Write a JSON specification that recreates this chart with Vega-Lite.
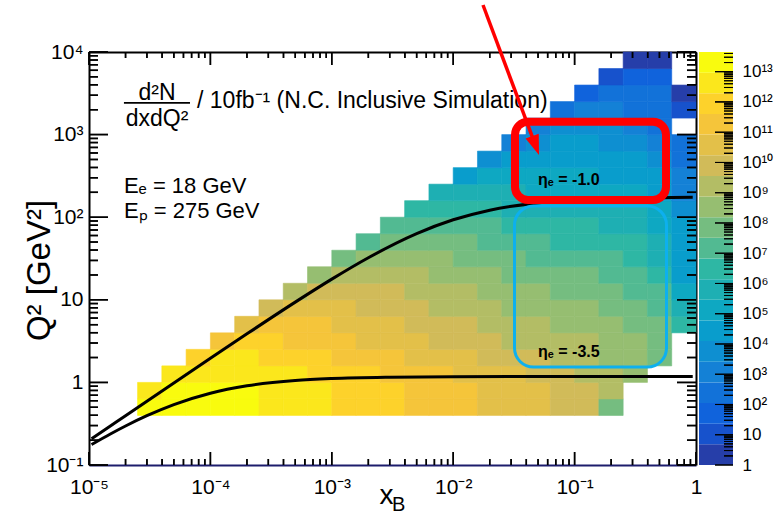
{
"$schema":"https://vega.github.io/schema/vega-lite/v6.json",
"background":"white",
"padding":{"left":23,"top":3,"right":2,"bottom":2},
"bounds":"flush",
"spacing":3,
"config":{"view":{"stroke":null},"font":"Liberation Sans","axis":{"grid":false,"labelFont":"Liberation Sans","titleFont":"Liberation Sans","labelColor":"black","titleColor":"black","titleFontWeight":"normal","zindex":1},"text":{"color":"black","font":"Liberation Sans"}},
"datasets":{
"cells":[
{"xl":2.512e-5,"xh":3.981e-5,"ql":0.3981,"qh":0.631,"z":4.46e13},
{"xl":3.981e-5,"xh":6.31e-5,"ql":0.3981,"qh":0.631,"z":4.46e13},
{"xl":6.31e-5,"xh":1e-4,"ql":0.3981,"qh":0.631,"z":4.46e13},
{"xl":1e-4,"xh":1.585e-4,"ql":0.3981,"qh":0.631,"z":4.46e13},
{"xl":1.585e-4,"xh":2.512e-4,"ql":0.3981,"qh":0.631,"z":4.46e13},
{"xl":2.512e-4,"xh":3.981e-4,"ql":0.3981,"qh":0.631,"z":9.279e12},
{"xl":3.981e-4,"xh":6.31e-4,"ql":0.3981,"qh":0.631,"z":9.279e12},
{"xl":6.31e-4,"xh":0.001,"ql":0.3981,"qh":0.631,"z":9.279e12},
{"xl":0.001,"xh":0.001585,"ql":0.3981,"qh":0.631,"z":1.928e12},
{"xl":0.001585,"xh":0.002512,"ql":0.3981,"qh":0.631,"z":1.928e12},
{"xl":0.002512,"xh":0.003981,"ql":0.3981,"qh":0.631,"z":1.928e12},
{"xl":0.003981,"xh":0.00631,"ql":0.3981,"qh":0.631,"z":4.004e11},
{"xl":0.00631,"xh":0.01,"ql":0.3981,"qh":0.631,"z":4.004e11},
{"xl":0.01,"xh":0.01585,"ql":0.3981,"qh":0.631,"z":4.004e11},
{"xl":0.01585,"xh":0.02512,"ql":0.3981,"qh":0.631,"z":8.318e10},
{"xl":0.02512,"xh":0.03981,"ql":0.3981,"qh":0.631,"z":8.318e10},
{"xl":0.03981,"xh":0.0631,"ql":0.3981,"qh":0.631,"z":8.318e10},
{"xl":0.0631,"xh":0.1,"ql":0.3981,"qh":0.631,"z":1.728e10},
{"xl":0.1,"xh":0.1585,"ql":0.3981,"qh":0.631,"z":1.728e10},
{"xl":0.1585,"xh":0.2512,"ql":0.3981,"qh":0.631,"z":1.549e8},
{"xl":2.512e-5,"xh":3.981e-5,"ql":0.631,"qh":1,"z":9.279e12},
{"xl":3.981e-5,"xh":6.31e-5,"ql":0.631,"qh":1,"z":4.46e13},
{"xl":6.31e-5,"xh":1e-4,"ql":0.631,"qh":1,"z":4.46e13},
{"xl":1e-4,"xh":1.585e-4,"ql":0.631,"qh":1,"z":4.46e13},
{"xl":1.585e-4,"xh":2.512e-4,"ql":0.631,"qh":1,"z":4.46e13},
{"xl":2.512e-4,"xh":3.981e-4,"ql":0.631,"qh":1,"z":9.279e12},
{"xl":3.981e-4,"xh":6.31e-4,"ql":0.631,"qh":1,"z":9.279e12},
{"xl":6.31e-4,"xh":0.001,"ql":0.631,"qh":1,"z":9.279e12},
{"xl":0.001,"xh":0.001585,"ql":0.631,"qh":1,"z":1.928e12},
{"xl":0.001585,"xh":0.002512,"ql":0.631,"qh":1,"z":1.928e12},
{"xl":0.002512,"xh":0.003981,"ql":0.631,"qh":1,"z":1.928e12},
{"xl":0.003981,"xh":0.00631,"ql":0.631,"qh":1,"z":4.004e11},
{"xl":0.00631,"xh":0.01,"ql":0.631,"qh":1,"z":4.004e11},
{"xl":0.01,"xh":0.01585,"ql":0.631,"qh":1,"z":4.004e11},
{"xl":0.01585,"xh":0.02512,"ql":0.631,"qh":1,"z":8.318e10},
{"xl":0.02512,"xh":0.03981,"ql":0.631,"qh":1,"z":8.318e10},
{"xl":0.03981,"xh":0.0631,"ql":0.631,"qh":1,"z":8.318e10},
{"xl":0.0631,"xh":0.1,"ql":0.631,"qh":1,"z":1.728e10},
{"xl":0.1,"xh":0.1585,"ql":0.631,"qh":1,"z":1.728e10},
{"xl":0.1585,"xh":0.2512,"ql":0.631,"qh":1,"z":3.589e9},
{"xl":3.981e-5,"xh":6.31e-5,"ql":1,"qh":1.585,"z":9.279e12},
{"xl":6.31e-5,"xh":1e-4,"ql":1,"qh":1.585,"z":9.279e12},
{"xl":1e-4,"xh":1.585e-4,"ql":1,"qh":1.585,"z":9.279e12},
{"xl":1.585e-4,"xh":2.512e-4,"ql":1,"qh":1.585,"z":9.279e12},
{"xl":2.512e-4,"xh":3.981e-4,"ql":1,"qh":1.585,"z":9.279e12},
{"xl":3.981e-4,"xh":6.31e-4,"ql":1,"qh":1.585,"z":9.279e12},
{"xl":6.31e-4,"xh":0.001,"ql":1,"qh":1.585,"z":1.928e12},
{"xl":0.001,"xh":0.001585,"ql":1,"qh":1.585,"z":1.928e12},
{"xl":0.001585,"xh":0.002512,"ql":1,"qh":1.585,"z":1.928e12},
{"xl":0.002512,"xh":0.003981,"ql":1,"qh":1.585,"z":4.004e11},
{"xl":0.003981,"xh":0.00631,"ql":1,"qh":1.585,"z":4.004e11},
{"xl":0.00631,"xh":0.01,"ql":1,"qh":1.585,"z":4.004e11},
{"xl":0.01,"xh":0.01585,"ql":1,"qh":1.585,"z":8.318e10},
{"xl":0.01585,"xh":0.02512,"ql":1,"qh":1.585,"z":8.318e10},
{"xl":0.02512,"xh":0.03981,"ql":1,"qh":1.585,"z":8.318e10},
{"xl":0.03981,"xh":0.0631,"ql":1,"qh":1.585,"z":1.728e10},
{"xl":0.0631,"xh":0.1,"ql":1,"qh":1.585,"z":1.728e10},
{"xl":0.1,"xh":0.1585,"ql":1,"qh":1.585,"z":3.589e9},
{"xl":0.1585,"xh":0.2512,"ql":1,"qh":1.585,"z":3.589e9},
{"xl":0.2512,"xh":0.3981,"ql":1,"qh":1.585,"z":7.456e8},
{"xl":6.31e-5,"xh":1e-4,"ql":1.585,"qh":2.512,"z":1.928e12},
{"xl":1e-4,"xh":1.585e-4,"ql":1.585,"qh":2.512,"z":9.279e12},
{"xl":1.585e-4,"xh":2.512e-4,"ql":1.585,"qh":2.512,"z":9.279e12},
{"xl":2.512e-4,"xh":3.981e-4,"ql":1.585,"qh":2.512,"z":1.928e12},
{"xl":3.981e-4,"xh":6.31e-4,"ql":1.585,"qh":2.512,"z":1.928e12},
{"xl":6.31e-4,"xh":0.001,"ql":1.585,"qh":2.512,"z":1.928e12},
{"xl":0.001,"xh":0.001585,"ql":1.585,"qh":2.512,"z":4.004e11},
{"xl":0.001585,"xh":0.002512,"ql":1.585,"qh":2.512,"z":4.004e11},
{"xl":0.002512,"xh":0.003981,"ql":1.585,"qh":2.512,"z":4.004e11},
{"xl":0.003981,"xh":0.00631,"ql":1.585,"qh":2.512,"z":8.318e10},
{"xl":0.00631,"xh":0.01,"ql":1.585,"qh":2.512,"z":8.318e10},
{"xl":0.01,"xh":0.01585,"ql":1.585,"qh":2.512,"z":8.318e10},
{"xl":0.01585,"xh":0.02512,"ql":1.585,"qh":2.512,"z":1.728e10},
{"xl":0.02512,"xh":0.03981,"ql":1.585,"qh":2.512,"z":1.728e10},
{"xl":0.03981,"xh":0.0631,"ql":1.585,"qh":2.512,"z":1.728e10},
{"xl":0.0631,"xh":0.1,"ql":1.585,"qh":2.512,"z":3.589e9},
{"xl":0.1,"xh":0.1585,"ql":1.585,"qh":2.512,"z":3.589e9},
{"xl":0.1585,"xh":0.2512,"ql":1.585,"qh":2.512,"z":7.456e8},
{"xl":0.2512,"xh":0.3981,"ql":1.585,"qh":2.512,"z":7.456e8},
{"xl":0.3981,"xh":0.631,"ql":1.585,"qh":2.512,"z":1.549e8},
{"xl":1e-4,"xh":1.585e-4,"ql":2.512,"qh":3.981,"z":4.004e11},
{"xl":1.585e-4,"xh":2.512e-4,"ql":2.512,"qh":3.981,"z":1.928e12},
{"xl":2.512e-4,"xh":3.981e-4,"ql":2.512,"qh":3.981,"z":1.928e12},
{"xl":3.981e-4,"xh":6.31e-4,"ql":2.512,"qh":3.981,"z":4.004e11},
{"xl":6.31e-4,"xh":0.001,"ql":2.512,"qh":3.981,"z":4.004e11},
{"xl":0.001,"xh":0.001585,"ql":2.512,"qh":3.981,"z":4.004e11},
{"xl":0.001585,"xh":0.002512,"ql":2.512,"qh":3.981,"z":8.318e10},
{"xl":0.002512,"xh":0.003981,"ql":2.512,"qh":3.981,"z":8.318e10},
{"xl":0.003981,"xh":0.00631,"ql":2.512,"qh":3.981,"z":8.318e10},
{"xl":0.00631,"xh":0.01,"ql":2.512,"qh":3.981,"z":1.728e10},
{"xl":0.01,"xh":0.01585,"ql":2.512,"qh":3.981,"z":1.728e10},
{"xl":0.01585,"xh":0.02512,"ql":2.512,"qh":3.981,"z":1.728e10},
{"xl":0.02512,"xh":0.03981,"ql":2.512,"qh":3.981,"z":3.589e9},
{"xl":0.03981,"xh":0.0631,"ql":2.512,"qh":3.981,"z":3.589e9},
{"xl":0.0631,"xh":0.1,"ql":2.512,"qh":3.981,"z":3.589e9},
{"xl":0.1,"xh":0.1585,"ql":2.512,"qh":3.981,"z":3.589e9},
{"xl":0.1585,"xh":0.2512,"ql":2.512,"qh":3.981,"z":7.456e8},
{"xl":0.2512,"xh":0.3981,"ql":2.512,"qh":3.981,"z":7.456e8},
{"xl":0.3981,"xh":0.631,"ql":2.512,"qh":3.981,"z":1.549e8},
{"xl":1.585e-4,"xh":2.512e-4,"ql":3.981,"qh":6.31,"z":8.318e10},
{"xl":2.512e-4,"xh":3.981e-4,"ql":3.981,"qh":6.31,"z":4.004e11},
{"xl":3.981e-4,"xh":6.31e-4,"ql":3.981,"qh":6.31,"z":4.004e11},
{"xl":6.31e-4,"xh":0.001,"ql":3.981,"qh":6.31,"z":4.004e11},
{"xl":0.001,"xh":0.001585,"ql":3.981,"qh":6.31,"z":8.318e10},
{"xl":0.001585,"xh":0.002512,"ql":3.981,"qh":6.31,"z":8.318e10},
{"xl":0.002512,"xh":0.003981,"ql":3.981,"qh":6.31,"z":8.318e10},
{"xl":0.003981,"xh":0.00631,"ql":3.981,"qh":6.31,"z":1.728e10},
{"xl":0.00631,"xh":0.01,"ql":3.981,"qh":6.31,"z":1.728e10},
{"xl":0.01,"xh":0.01585,"ql":3.981,"qh":6.31,"z":1.728e10},
{"xl":0.01585,"xh":0.02512,"ql":3.981,"qh":6.31,"z":3.589e9},
{"xl":0.02512,"xh":0.03981,"ql":3.981,"qh":6.31,"z":3.589e9},
{"xl":0.03981,"xh":0.0631,"ql":3.981,"qh":6.31,"z":3.589e9},
{"xl":0.0631,"xh":0.1,"ql":3.981,"qh":6.31,"z":7.456e8},
{"xl":0.1,"xh":0.1585,"ql":3.981,"qh":6.31,"z":7.456e8},
{"xl":0.1585,"xh":0.2512,"ql":3.981,"qh":6.31,"z":7.456e8},
{"xl":0.2512,"xh":0.3981,"ql":3.981,"qh":6.31,"z":1.549e8},
{"xl":0.3981,"xh":0.631,"ql":3.981,"qh":6.31,"z":1.549e8},
{"xl":0.631,"xh":1,"ql":3.981,"qh":6.31,"z":6.683e6},
{"xl":2.512e-4,"xh":3.981e-4,"ql":6.31,"qh":10,"z":1.728e10},
{"xl":3.981e-4,"xh":6.31e-4,"ql":6.31,"qh":10,"z":8.318e10},
{"xl":6.31e-4,"xh":0.001,"ql":6.31,"qh":10,"z":8.318e10},
{"xl":0.001,"xh":0.001585,"ql":6.31,"qh":10,"z":8.318e10},
{"xl":0.001585,"xh":0.002512,"ql":6.31,"qh":10,"z":1.728e10},
{"xl":0.002512,"xh":0.003981,"ql":6.31,"qh":10,"z":1.728e10},
{"xl":0.003981,"xh":0.00631,"ql":6.31,"qh":10,"z":1.728e10},
{"xl":0.00631,"xh":0.01,"ql":6.31,"qh":10,"z":3.589e9},
{"xl":0.01,"xh":0.01585,"ql":6.31,"qh":10,"z":3.589e9},
{"xl":0.01585,"xh":0.02512,"ql":6.31,"qh":10,"z":3.589e9},
{"xl":0.02512,"xh":0.03981,"ql":6.31,"qh":10,"z":7.456e8},
{"xl":0.03981,"xh":0.0631,"ql":6.31,"qh":10,"z":7.456e8},
{"xl":0.0631,"xh":0.1,"ql":6.31,"qh":10,"z":7.456e8},
{"xl":0.1,"xh":0.1585,"ql":6.31,"qh":10,"z":7.456e8},
{"xl":0.1585,"xh":0.2512,"ql":6.31,"qh":10,"z":1.549e8},
{"xl":0.2512,"xh":0.3981,"ql":6.31,"qh":10,"z":1.549e8},
{"xl":0.3981,"xh":0.631,"ql":6.31,"qh":10,"z":3.217e7},
{"xl":0.631,"xh":1,"ql":6.31,"qh":10,"z":1.388e6},
{"xl":3.981e-4,"xh":6.31e-4,"ql":10,"qh":15.85,"z":3.589e9},
{"xl":6.31e-4,"xh":0.001,"ql":10,"qh":15.85,"z":1.728e10},
{"xl":0.001,"xh":0.001585,"ql":10,"qh":15.85,"z":1.728e10},
{"xl":0.001585,"xh":0.002512,"ql":10,"qh":15.85,"z":1.728e10},
{"xl":0.002512,"xh":0.003981,"ql":10,"qh":15.85,"z":1.728e10},
{"xl":0.003981,"xh":0.00631,"ql":10,"qh":15.85,"z":3.589e9},
{"xl":0.00631,"xh":0.01,"ql":10,"qh":15.85,"z":3.589e9},
{"xl":0.01,"xh":0.01585,"ql":10,"qh":15.85,"z":3.589e9},
{"xl":0.01585,"xh":0.02512,"ql":10,"qh":15.85,"z":7.456e8},
{"xl":0.02512,"xh":0.03981,"ql":10,"qh":15.85,"z":7.456e8},
{"xl":0.03981,"xh":0.0631,"ql":10,"qh":15.85,"z":7.456e8},
{"xl":0.0631,"xh":0.1,"ql":10,"qh":15.85,"z":1.549e8},
{"xl":0.1,"xh":0.1585,"ql":10,"qh":15.85,"z":1.549e8},
{"xl":0.1585,"xh":0.2512,"ql":10,"qh":15.85,"z":1.549e8},
{"xl":0.2512,"xh":0.3981,"ql":10,"qh":15.85,"z":3.217e7},
{"xl":0.3981,"xh":0.631,"ql":10,"qh":15.85,"z":3.217e7},
{"xl":0.631,"xh":1,"ql":10,"qh":15.85,"z":288400},
{"xl":6.31e-4,"xh":0.001,"ql":15.85,"qh":25.12,"z":7.456e8},
{"xl":0.001,"xh":0.001585,"ql":15.85,"qh":25.12,"z":3.589e9},
{"xl":0.001585,"xh":0.002512,"ql":15.85,"qh":25.12,"z":3.589e9},
{"xl":0.002512,"xh":0.003981,"ql":15.85,"qh":25.12,"z":3.589e9},
{"xl":0.003981,"xh":0.00631,"ql":15.85,"qh":25.12,"z":3.589e9},
{"xl":0.00631,"xh":0.01,"ql":15.85,"qh":25.12,"z":7.456e8},
{"xl":0.01,"xh":0.01585,"ql":15.85,"qh":25.12,"z":7.456e8},
{"xl":0.01585,"xh":0.02512,"ql":15.85,"qh":25.12,"z":7.456e8},
{"xl":0.02512,"xh":0.03981,"ql":15.85,"qh":25.12,"z":1.549e8},
{"xl":0.03981,"xh":0.0631,"ql":15.85,"qh":25.12,"z":1.549e8},
{"xl":0.0631,"xh":0.1,"ql":15.85,"qh":25.12,"z":1.549e8},
{"xl":0.1,"xh":0.1585,"ql":15.85,"qh":25.12,"z":1.549e8},
{"xl":0.1585,"xh":0.2512,"ql":15.85,"qh":25.12,"z":3.217e7},
{"xl":0.2512,"xh":0.3981,"ql":15.85,"qh":25.12,"z":3.217e7},
{"xl":0.3981,"xh":0.631,"ql":15.85,"qh":25.12,"z":6.683e6},
{"xl":0.631,"xh":1,"ql":15.85,"qh":25.12,"z":59912},
{"xl":0.001,"xh":0.001585,"ql":25.12,"qh":39.81,"z":1.549e8},
{"xl":0.001585,"xh":0.002512,"ql":25.12,"qh":39.81,"z":7.456e8},
{"xl":0.002512,"xh":0.003981,"ql":25.12,"qh":39.81,"z":7.456e8},
{"xl":0.003981,"xh":0.00631,"ql":25.12,"qh":39.81,"z":7.456e8},
{"xl":0.00631,"xh":0.01,"ql":25.12,"qh":39.81,"z":7.456e8},
{"xl":0.01,"xh":0.01585,"ql":25.12,"qh":39.81,"z":1.549e8},
{"xl":0.01585,"xh":0.02512,"ql":25.12,"qh":39.81,"z":1.549e8},
{"xl":0.02512,"xh":0.03981,"ql":25.12,"qh":39.81,"z":1.549e8},
{"xl":0.03981,"xh":0.0631,"ql":25.12,"qh":39.81,"z":3.217e7},
{"xl":0.0631,"xh":0.1,"ql":25.12,"qh":39.81,"z":3.217e7},
{"xl":0.1,"xh":0.1585,"ql":25.12,"qh":39.81,"z":3.217e7},
{"xl":0.1585,"xh":0.2512,"ql":25.12,"qh":39.81,"z":3.217e7},
{"xl":0.2512,"xh":0.3981,"ql":25.12,"qh":39.81,"z":6.683e6},
{"xl":0.3981,"xh":0.631,"ql":25.12,"qh":39.81,"z":1.388e6},
{"xl":0.631,"xh":1,"ql":25.12,"qh":39.81,"z":59912},
{"xl":0.001585,"xh":0.002512,"ql":39.81,"qh":63.1,"z":3.217e7},
{"xl":0.002512,"xh":0.003981,"ql":39.81,"qh":63.1,"z":1.549e8},
{"xl":0.003981,"xh":0.00631,"ql":39.81,"qh":63.1,"z":1.549e8},
{"xl":0.00631,"xh":0.01,"ql":39.81,"qh":63.1,"z":1.549e8},
{"xl":0.01,"xh":0.01585,"ql":39.81,"qh":63.1,"z":1.549e8},
{"xl":0.01585,"xh":0.02512,"ql":39.81,"qh":63.1,"z":3.217e7},
{"xl":0.02512,"xh":0.03981,"ql":39.81,"qh":63.1,"z":3.217e7},
{"xl":0.03981,"xh":0.0631,"ql":39.81,"qh":63.1,"z":3.217e7},
{"xl":0.0631,"xh":0.1,"ql":39.81,"qh":63.1,"z":6.683e6},
{"xl":0.1,"xh":0.1585,"ql":39.81,"qh":63.1,"z":6.683e6},
{"xl":0.1585,"xh":0.2512,"ql":39.81,"qh":63.1,"z":6.683e6},
{"xl":0.2512,"xh":0.3981,"ql":39.81,"qh":63.1,"z":6.683e6},
{"xl":0.3981,"xh":0.631,"ql":39.81,"qh":63.1,"z":1.388e6},
{"xl":0.631,"xh":1,"ql":39.81,"qh":63.1,"z":59912},
{"xl":0.002512,"xh":0.003981,"ql":63.1,"qh":100,"z":3.217e7},
{"xl":0.003981,"xh":0.00631,"ql":63.1,"qh":100,"z":3.217e7},
{"xl":0.00631,"xh":0.01,"ql":63.1,"qh":100,"z":3.217e7},
{"xl":0.01,"xh":0.01585,"ql":63.1,"qh":100,"z":3.217e7},
{"xl":0.01585,"xh":0.02512,"ql":63.1,"qh":100,"z":3.217e7},
{"xl":0.02512,"xh":0.03981,"ql":63.1,"qh":100,"z":6.683e6},
{"xl":0.03981,"xh":0.0631,"ql":63.1,"qh":100,"z":6.683e6},
{"xl":0.0631,"xh":0.1,"ql":63.1,"qh":100,"z":6.683e6},
{"xl":0.1,"xh":0.1585,"ql":63.1,"qh":100,"z":6.683e6},
{"xl":0.1585,"xh":0.2512,"ql":63.1,"qh":100,"z":1.388e6},
{"xl":0.2512,"xh":0.3981,"ql":63.1,"qh":100,"z":1.388e6},
{"xl":0.3981,"xh":0.631,"ql":63.1,"qh":100,"z":288400},
{"xl":0.631,"xh":1,"ql":63.1,"qh":100,"z":59912},
{"xl":0.003981,"xh":0.00631,"ql":100,"qh":158.5,"z":6.683e6},
{"xl":0.00631,"xh":0.01,"ql":100,"qh":158.5,"z":6.683e6},
{"xl":0.01,"xh":0.01585,"ql":100,"qh":158.5,"z":6.683e6},
{"xl":0.01585,"xh":0.02512,"ql":100,"qh":158.5,"z":6.683e6},
{"xl":0.02512,"xh":0.03981,"ql":100,"qh":158.5,"z":1.388e6},
{"xl":0.03981,"xh":0.0631,"ql":100,"qh":158.5,"z":1.388e6},
{"xl":0.0631,"xh":0.1,"ql":100,"qh":158.5,"z":1.388e6},
{"xl":0.1,"xh":0.1585,"ql":100,"qh":158.5,"z":1.388e6},
{"xl":0.1585,"xh":0.2512,"ql":100,"qh":158.5,"z":1.388e6},
{"xl":0.2512,"xh":0.3981,"ql":100,"qh":158.5,"z":1.388e6},
{"xl":0.3981,"xh":0.631,"ql":100,"qh":158.5,"z":288400},
{"xl":0.631,"xh":1,"ql":100,"qh":158.5,"z":12445},
{"xl":0.00631,"xh":0.01,"ql":158.5,"qh":251.2,"z":1.388e6},
{"xl":0.01,"xh":0.01585,"ql":158.5,"qh":251.2,"z":1.388e6},
{"xl":0.01585,"xh":0.02512,"ql":158.5,"qh":251.2,"z":1.388e6},
{"xl":0.02512,"xh":0.03981,"ql":158.5,"qh":251.2,"z":1.388e6},
{"xl":0.03981,"xh":0.0631,"ql":158.5,"qh":251.2,"z":288400},
{"xl":0.0631,"xh":0.1,"ql":158.5,"qh":251.2,"z":288400},
{"xl":0.1,"xh":0.1585,"ql":158.5,"qh":251.2,"z":288400},
{"xl":0.1585,"xh":0.2512,"ql":158.5,"qh":251.2,"z":288400},
{"xl":0.2512,"xh":0.3981,"ql":158.5,"qh":251.2,"z":288400},
{"xl":0.3981,"xh":0.631,"ql":158.5,"qh":251.2,"z":59912},
{"xl":0.631,"xh":1,"ql":158.5,"qh":251.2,"z":2585},
{"xl":0.01,"xh":0.01585,"ql":251.2,"qh":398.1,"z":59912},
{"xl":0.01585,"xh":0.02512,"ql":251.2,"qh":398.1,"z":288400},
{"xl":0.02512,"xh":0.03981,"ql":251.2,"qh":398.1,"z":288400},
{"xl":0.03981,"xh":0.0631,"ql":251.2,"qh":398.1,"z":288400},
{"xl":0.0631,"xh":0.1,"ql":251.2,"qh":398.1,"z":288400},
{"xl":0.1,"xh":0.1585,"ql":251.2,"qh":398.1,"z":288400},
{"xl":0.1585,"xh":0.2512,"ql":251.2,"qh":398.1,"z":59912},
{"xl":0.2512,"xh":0.3981,"ql":251.2,"qh":398.1,"z":59912},
{"xl":0.3981,"xh":0.631,"ql":251.2,"qh":398.1,"z":59912},
{"xl":0.631,"xh":1,"ql":251.2,"qh":398.1,"z":2585},
{"xl":0.01585,"xh":0.02512,"ql":398.1,"qh":631,"z":12445},
{"xl":0.02512,"xh":0.03981,"ql":398.1,"qh":631,"z":59912},
{"xl":0.03981,"xh":0.0631,"ql":398.1,"qh":631,"z":59912},
{"xl":0.0631,"xh":0.1,"ql":398.1,"qh":631,"z":59912},
{"xl":0.1,"xh":0.1585,"ql":398.1,"qh":631,"z":59912},
{"xl":0.1585,"xh":0.2512,"ql":398.1,"qh":631,"z":59912},
{"xl":0.2512,"xh":0.3981,"ql":398.1,"qh":631,"z":59912},
{"xl":0.3981,"xh":0.631,"ql":398.1,"qh":631,"z":12445},
{"xl":0.631,"xh":1,"ql":398.1,"qh":631,"z":537},
{"xl":0.02512,"xh":0.03981,"ql":631,"qh":1000,"z":2585},
{"xl":0.03981,"xh":0.0631,"ql":631,"qh":1000,"z":12445},
{"xl":0.0631,"xh":0.1,"ql":631,"qh":1000,"z":59912},
{"xl":0.1,"xh":0.1585,"ql":631,"qh":1000,"z":59912},
{"xl":0.1585,"xh":0.2512,"ql":631,"qh":1000,"z":12445},
{"xl":0.2512,"xh":0.3981,"ql":631,"qh":1000,"z":12445},
{"xl":0.3981,"xh":0.631,"ql":631,"qh":1000,"z":2585},
{"xl":0.631,"xh":1,"ql":631,"qh":1000,"z":537},
{"xl":0.03981,"xh":0.0631,"ql":1000,"qh":1585,"z":2585},
{"xl":0.0631,"xh":0.1,"ql":1000,"qh":1585,"z":12445},
{"xl":0.1,"xh":0.1585,"ql":1000,"qh":1585,"z":12445},
{"xl":0.1585,"xh":0.2512,"ql":1000,"qh":1585,"z":12445},
{"xl":0.2512,"xh":0.3981,"ql":1000,"qh":1585,"z":2585},
{"xl":0.3981,"xh":0.631,"ql":1000,"qh":1585,"z":537},
{"xl":0.0631,"xh":0.1,"ql":1585,"qh":2512,"z":537},
{"xl":0.1,"xh":0.1585,"ql":1585,"qh":2512,"z":2585},
{"xl":0.1585,"xh":0.2512,"ql":1585,"qh":2512,"z":2585},
{"xl":0.2512,"xh":0.3981,"ql":1585,"qh":2512,"z":537},
{"xl":0.3981,"xh":0.631,"ql":1585,"qh":2512,"z":537},
{"xl":0.631,"xh":1,"ql":1585,"qh":2512,"z":23.2},
{"xl":0.1,"xh":0.1585,"ql":2512,"qh":3981,"z":111.6},
{"xl":0.1585,"xh":0.2512,"ql":2512,"qh":3981,"z":537},
{"xl":0.2512,"xh":0.3981,"ql":2512,"qh":3981,"z":537},
{"xl":0.3981,"xh":0.631,"ql":2512,"qh":3981,"z":537},
{"xl":0.631,"xh":1,"ql":2512,"qh":3981,"z":4.81},
{"xl":0.1585,"xh":0.2512,"ql":3981,"qh":6310,"z":23.2},
{"xl":0.2512,"xh":0.3981,"ql":3981,"qh":6310,"z":111.6},
{"xl":0.3981,"xh":0.631,"ql":3981,"qh":6310,"z":111.6},
{"xl":0.2512,"xh":0.3981,"ql":6310,"qh":10000,"z":4.81},
{"xl":0.3981,"xh":0.631,"ql":6310,"qh":10000,"z":4.81}
],
"bar":[
{"lo":1,"hi":4.814},{"lo":4.814,"hi":23.174},{"lo":23.174,"hi":111.56},{"lo":111.56,"hi":537.03},{"lo":537.03,"hi":2585.3},{"lo":2585.3,"hi":12445},{"lo":12445,"hi":59912},{"lo":59912,"hi":288403},{"lo":288403,"hi":1388400},{"lo":1388400,"hi":6683400},{"lo":6683400,"hi":32174000},{"lo":32174000,"hi":154880000},{"lo":154880000,"hi":745590000},{"lo":745590000,"hi":3589200000},{"lo":3589200000,"hi":17278000000},{"lo":17278000000,"hi":83176000000},{"lo":83176000000,"hi":400400000000},{"lo":400400000000,"hi":1927500000000},{"lo":1927500000000,"hi":9279000000000},{"lo":9279000000000,"hi":44668000000000}
],
"bt":[
{"v":1e-5,"a":0.1,"b":0.1437},{"v":2e-5,"a":0.1,"b":0.1182},{"v":3e-5,"a":0.1,"b":0.1182},{"v":4e-5,"a":0.1,"b":0.1182},{"v":5e-5,"a":0.1,"b":0.1182},{"v":6e-5,"a":0.1,"b":0.1182},{"v":7e-5,"a":0.1,"b":0.1182},{"v":8e-5,"a":0.1,"b":0.1182},{"v":9e-5,"a":0.1,"b":0.1182},
{"v":1e-4,"a":0.1,"b":0.1437},{"v":2e-4,"a":0.1,"b":0.1182},{"v":3e-4,"a":0.1,"b":0.1182},{"v":4e-4,"a":0.1,"b":0.1182},{"v":5e-4,"a":0.1,"b":0.1182},{"v":6e-4,"a":0.1,"b":0.1182},{"v":7e-4,"a":0.1,"b":0.1182},{"v":8e-4,"a":0.1,"b":0.1182},{"v":9e-4,"a":0.1,"b":0.1182},
{"v":0.001,"a":0.1,"b":0.1437},{"v":0.002,"a":0.1,"b":0.1182},{"v":0.003,"a":0.1,"b":0.1182},{"v":0.004,"a":0.1,"b":0.1182},{"v":0.005,"a":0.1,"b":0.1182},{"v":0.006,"a":0.1,"b":0.1182},{"v":0.007,"a":0.1,"b":0.1182},{"v":0.008,"a":0.1,"b":0.1182},{"v":0.009,"a":0.1,"b":0.1182},
{"v":0.01,"a":0.1,"b":0.1437},{"v":0.02,"a":0.1,"b":0.1182},{"v":0.03,"a":0.1,"b":0.1182},{"v":0.04,"a":0.1,"b":0.1182},{"v":0.05,"a":0.1,"b":0.1182},{"v":0.06,"a":0.1,"b":0.1182},{"v":0.07,"a":0.1,"b":0.1182},{"v":0.08,"a":0.1,"b":0.1182},{"v":0.09,"a":0.1,"b":0.1182},
{"v":0.1,"a":0.1,"b":0.1437},{"v":0.2,"a":0.1,"b":0.1182},{"v":0.3,"a":0.1,"b":0.1182},{"v":0.4,"a":0.1,"b":0.1182},{"v":0.5,"a":0.1,"b":0.1182},{"v":0.6,"a":0.1,"b":0.1182},{"v":0.7,"a":0.1,"b":0.1182},{"v":0.8,"a":0.1,"b":0.1182},{"v":0.9,"a":0.1,"b":0.1182},
{"v":1,"a":0.1,"b":0.1437}
],
"tt":[
{"v":1e-5,"a":10000,"b":6959},{"v":2e-5,"a":10000,"b":8460},{"v":3e-5,"a":10000,"b":8460},{"v":4e-5,"a":10000,"b":8460},{"v":5e-5,"a":10000,"b":8460},{"v":6e-5,"a":10000,"b":8460},{"v":7e-5,"a":10000,"b":8460},{"v":8e-5,"a":10000,"b":8460},{"v":9e-5,"a":10000,"b":8460},
{"v":1e-4,"a":10000,"b":6959},{"v":2e-4,"a":10000,"b":8460},{"v":3e-4,"a":10000,"b":8460},{"v":4e-4,"a":10000,"b":8460},{"v":5e-4,"a":10000,"b":8460},{"v":6e-4,"a":10000,"b":8460},{"v":7e-4,"a":10000,"b":8460},{"v":8e-4,"a":10000,"b":8460},{"v":9e-4,"a":10000,"b":8460},
{"v":0.001,"a":10000,"b":6959},{"v":0.002,"a":10000,"b":8460},{"v":0.003,"a":10000,"b":8460},{"v":0.004,"a":10000,"b":8460},{"v":0.005,"a":10000,"b":8460},{"v":0.006,"a":10000,"b":8460},{"v":0.007,"a":10000,"b":8460},{"v":0.008,"a":10000,"b":8460},{"v":0.009,"a":10000,"b":8460},
{"v":0.01,"a":10000,"b":6959},{"v":0.02,"a":10000,"b":8460},{"v":0.03,"a":10000,"b":8460},{"v":0.04,"a":10000,"b":8460},{"v":0.05,"a":10000,"b":8460},{"v":0.06,"a":10000,"b":8460},{"v":0.07,"a":10000,"b":8460},{"v":0.08,"a":10000,"b":8460},{"v":0.09,"a":10000,"b":8460},
{"v":0.1,"a":10000,"b":6959},{"v":0.2,"a":10000,"b":8460},{"v":0.3,"a":10000,"b":8460},{"v":0.4,"a":10000,"b":8460},{"v":0.5,"a":10000,"b":8460},{"v":0.6,"a":10000,"b":8460},{"v":0.7,"a":10000,"b":8460},{"v":0.8,"a":10000,"b":8460},{"v":0.9,"a":10000,"b":8460},
{"v":1,"a":10000,"b":6959}
],
"lt":[
{"v":0.1,"a":1e-5,"b":1.434e-5},{"v":0.2,"a":1e-5,"b":1.186e-5},{"v":0.3,"a":1e-5,"b":1.186e-5},{"v":0.4,"a":1e-5,"b":1.186e-5},{"v":0.5,"a":1e-5,"b":1.186e-5},{"v":0.6,"a":1e-5,"b":1.186e-5},{"v":0.7,"a":1e-5,"b":1.186e-5},{"v":0.8,"a":1e-5,"b":1.186e-5},{"v":0.9,"a":1e-5,"b":1.186e-5},
{"v":1,"a":1e-5,"b":1.434e-5},{"v":2,"a":1e-5,"b":1.186e-5},{"v":3,"a":1e-5,"b":1.186e-5},{"v":4,"a":1e-5,"b":1.186e-5},{"v":5,"a":1e-5,"b":1.186e-5},{"v":6,"a":1e-5,"b":1.186e-5},{"v":7,"a":1e-5,"b":1.186e-5},{"v":8,"a":1e-5,"b":1.186e-5},{"v":9,"a":1e-5,"b":1.186e-5},
{"v":10,"a":1e-5,"b":1.434e-5},{"v":20,"a":1e-5,"b":1.186e-5},{"v":30,"a":1e-5,"b":1.186e-5},{"v":40,"a":1e-5,"b":1.186e-5},{"v":50,"a":1e-5,"b":1.186e-5},{"v":60,"a":1e-5,"b":1.186e-5},{"v":70,"a":1e-5,"b":1.186e-5},{"v":80,"a":1e-5,"b":1.186e-5},{"v":90,"a":1e-5,"b":1.186e-5},
{"v":100,"a":1e-5,"b":1.434e-5},{"v":200,"a":1e-5,"b":1.186e-5},{"v":300,"a":1e-5,"b":1.186e-5},{"v":400,"a":1e-5,"b":1.186e-5},{"v":500,"a":1e-5,"b":1.186e-5},{"v":600,"a":1e-5,"b":1.186e-5},{"v":700,"a":1e-5,"b":1.186e-5},{"v":800,"a":1e-5,"b":1.186e-5},{"v":900,"a":1e-5,"b":1.186e-5},
{"v":1000,"a":1e-5,"b":1.434e-5},{"v":2000,"a":1e-5,"b":1.186e-5},{"v":3000,"a":1e-5,"b":1.186e-5},{"v":4000,"a":1e-5,"b":1.186e-5},{"v":5000,"a":1e-5,"b":1.186e-5},{"v":6000,"a":1e-5,"b":1.186e-5},{"v":7000,"a":1e-5,"b":1.186e-5},{"v":8000,"a":1e-5,"b":1.186e-5},{"v":9000,"a":1e-5,"b":1.186e-5},
{"v":10000,"a":1e-5,"b":1.434e-5}
],
"rt":[
{"v":0.1,"a":1,"b":0.6975},{"v":0.2,"a":1,"b":0.8429},{"v":0.3,"a":1,"b":0.8429},{"v":0.4,"a":1,"b":0.8429},{"v":0.5,"a":1,"b":0.8429},{"v":0.6,"a":1,"b":0.8429},{"v":0.7,"a":1,"b":0.8429},{"v":0.8,"a":1,"b":0.8429},{"v":0.9,"a":1,"b":0.8429},
{"v":1,"a":1,"b":0.6975},{"v":2,"a":1,"b":0.8429},{"v":3,"a":1,"b":0.8429},{"v":4,"a":1,"b":0.8429},{"v":5,"a":1,"b":0.8429},{"v":6,"a":1,"b":0.8429},{"v":7,"a":1,"b":0.8429},{"v":8,"a":1,"b":0.8429},{"v":9,"a":1,"b":0.8429},
{"v":10,"a":1,"b":0.6975},{"v":20,"a":1,"b":0.8429},{"v":30,"a":1,"b":0.8429},{"v":40,"a":1,"b":0.8429},{"v":50,"a":1,"b":0.8429},{"v":60,"a":1,"b":0.8429},{"v":70,"a":1,"b":0.8429},{"v":80,"a":1,"b":0.8429},{"v":90,"a":1,"b":0.8429},
{"v":100,"a":1,"b":0.6975},{"v":200,"a":1,"b":0.8429},{"v":300,"a":1,"b":0.8429},{"v":400,"a":1,"b":0.8429},{"v":500,"a":1,"b":0.8429},{"v":600,"a":1,"b":0.8429},{"v":700,"a":1,"b":0.8429},{"v":800,"a":1,"b":0.8429},{"v":900,"a":1,"b":0.8429},
{"v":1000,"a":1,"b":0.6975},{"v":2000,"a":1,"b":0.8429},{"v":3000,"a":1,"b":0.8429},{"v":4000,"a":1,"b":0.8429},{"v":5000,"a":1,"b":0.8429},{"v":6000,"a":1,"b":0.8429},{"v":7000,"a":1,"b":0.8429},{"v":8000,"a":1,"b":0.8429},{"v":9000,"a":1,"b":0.8429},
{"v":10000,"a":1,"b":0.6975}
],
"ct":[
{"v":1,"a":1,"b":0.4706},{"v":2,"a":1,"b":0.7353},{"v":3,"a":1,"b":0.7353},{"v":4,"a":1,"b":0.7353},{"v":5,"a":1,"b":0.7353},{"v":6,"a":1,"b":0.7353},{"v":7,"a":1,"b":0.7353},{"v":8,"a":1,"b":0.7353},{"v":9,"a":1,"b":0.7353},
{"v":10,"a":1,"b":0.4706},{"v":20,"a":1,"b":0.7353},{"v":30,"a":1,"b":0.7353},{"v":40,"a":1,"b":0.7353},{"v":50,"a":1,"b":0.7353},{"v":60,"a":1,"b":0.7353},{"v":70,"a":1,"b":0.7353},{"v":80,"a":1,"b":0.7353},{"v":90,"a":1,"b":0.7353},
{"v":100,"a":1,"b":0.4706},{"v":200,"a":1,"b":0.7353},{"v":300,"a":1,"b":0.7353},{"v":400,"a":1,"b":0.7353},{"v":500,"a":1,"b":0.7353},{"v":600,"a":1,"b":0.7353},{"v":700,"a":1,"b":0.7353},{"v":800,"a":1,"b":0.7353},{"v":900,"a":1,"b":0.7353},
{"v":1000,"a":1,"b":0.4706},{"v":2000,"a":1,"b":0.7353},{"v":3000,"a":1,"b":0.7353},{"v":4000,"a":1,"b":0.7353},{"v":5000,"a":1,"b":0.7353},{"v":6000,"a":1,"b":0.7353},{"v":7000,"a":1,"b":0.7353},{"v":8000,"a":1,"b":0.7353},{"v":9000,"a":1,"b":0.7353},
{"v":1e4,"a":1,"b":0.4706},{"v":2e4,"a":1,"b":0.7353},{"v":3e4,"a":1,"b":0.7353},{"v":4e4,"a":1,"b":0.7353},{"v":5e4,"a":1,"b":0.7353},{"v":6e4,"a":1,"b":0.7353},{"v":7e4,"a":1,"b":0.7353},{"v":8e4,"a":1,"b":0.7353},{"v":9e4,"a":1,"b":0.7353},
{"v":1e5,"a":1,"b":0.4706},{"v":2e5,"a":1,"b":0.7353},{"v":3e5,"a":1,"b":0.7353},{"v":4e5,"a":1,"b":0.7353},{"v":5e5,"a":1,"b":0.7353},{"v":6e5,"a":1,"b":0.7353},{"v":7e5,"a":1,"b":0.7353},{"v":8e5,"a":1,"b":0.7353},{"v":9e5,"a":1,"b":0.7353},
{"v":1e6,"a":1,"b":0.4706},{"v":2e6,"a":1,"b":0.7353},{"v":3e6,"a":1,"b":0.7353},{"v":4e6,"a":1,"b":0.7353},{"v":5e6,"a":1,"b":0.7353},{"v":6e6,"a":1,"b":0.7353},{"v":7e6,"a":1,"b":0.7353},{"v":8e6,"a":1,"b":0.7353},{"v":9e6,"a":1,"b":0.7353},
{"v":1e7,"a":1,"b":0.4706},{"v":2e7,"a":1,"b":0.7353},{"v":3e7,"a":1,"b":0.7353},{"v":4e7,"a":1,"b":0.7353},{"v":5e7,"a":1,"b":0.7353},{"v":6e7,"a":1,"b":0.7353},{"v":7e7,"a":1,"b":0.7353},{"v":8e7,"a":1,"b":0.7353},{"v":9e7,"a":1,"b":0.7353},
{"v":1e8,"a":1,"b":0.4706},{"v":2e8,"a":1,"b":0.7353},{"v":3e8,"a":1,"b":0.7353},{"v":4e8,"a":1,"b":0.7353},{"v":5e8,"a":1,"b":0.7353},{"v":6e8,"a":1,"b":0.7353},{"v":7e8,"a":1,"b":0.7353},{"v":8e8,"a":1,"b":0.7353},{"v":9e8,"a":1,"b":0.7353},
{"v":1e9,"a":1,"b":0.4706},{"v":2e9,"a":1,"b":0.7353},{"v":3e9,"a":1,"b":0.7353},{"v":4e9,"a":1,"b":0.7353},{"v":5e9,"a":1,"b":0.7353},{"v":6e9,"a":1,"b":0.7353},{"v":7e9,"a":1,"b":0.7353},{"v":8e9,"a":1,"b":0.7353},{"v":9e9,"a":1,"b":0.7353},
{"v":1e10,"a":1,"b":0.4706},{"v":2e10,"a":1,"b":0.7353},{"v":3e10,"a":1,"b":0.7353},{"v":4e10,"a":1,"b":0.7353},{"v":5e10,"a":1,"b":0.7353},{"v":6e10,"a":1,"b":0.7353},{"v":7e10,"a":1,"b":0.7353},{"v":8e10,"a":1,"b":0.7353},{"v":9e10,"a":1,"b":0.7353},
{"v":1e11,"a":1,"b":0.4706},{"v":2e11,"a":1,"b":0.7353},{"v":3e11,"a":1,"b":0.7353},{"v":4e11,"a":1,"b":0.7353},{"v":5e11,"a":1,"b":0.7353},{"v":6e11,"a":1,"b":0.7353},{"v":7e11,"a":1,"b":0.7353},{"v":8e11,"a":1,"b":0.7353},{"v":9e11,"a":1,"b":0.7353},
{"v":1e12,"a":1,"b":0.4706},{"v":2e12,"a":1,"b":0.7353},{"v":3e12,"a":1,"b":0.7353},{"v":4e12,"a":1,"b":0.7353},{"v":5e12,"a":1,"b":0.7353},{"v":6e12,"a":1,"b":0.7353},{"v":7e12,"a":1,"b":0.7353},{"v":8e12,"a":1,"b":0.7353},{"v":9e12,"a":1,"b":0.7353},
{"v":1e13,"a":1,"b":0.4706},{"v":2e13,"a":1,"b":0.7353},{"v":3e13,"a":1,"b":0.7353},{"v":4e13,"a":1,"b":0.7353}
],
"curves":[
{"eta":"-1.0","x":1.05e-5,"q":0.2077},{"eta":"-1.0","x":1.5e-5,"q":0.2965},{"eta":"-1.0","x":2e-5,"q":0.3951},{"eta":"-1.0","x":3e-5,"q":0.592},{"eta":"-1.0","x":5e-5,"q":0.9844},{"eta":"-1.0","x":1e-4,"q":1.958},{"eta":"-1.0","x":2e-4,"q":3.872},{"eta":"-1.0","x":5e-4,"q":9.371},{"eta":"-1.0","x":0.001,"q":17.79},{"eta":"-1.0","x":0.002,"q":32.3},{"eta":"-1.0","x":0.005,"q":63.28},{"eta":"-1.0","x":0.01,"q":93.0},{"eta":"-1.0","x":0.02,"q":121.6},{"eta":"-1.0","x":0.05,"q":149.0},{"eta":"-1.0","x":0.1,"q":161.1},{"eta":"-1.0","x":0.2,"q":168.0},{"eta":"-1.0","x":0.5,"q":172.3},{"eta":"-1.0","x":0.94,"q":173.8},
{"eta":"-3.5","x":1.05e-5,"q":0.1767},{"eta":"-3.5","x":1.5e-5,"q":0.2372},{"eta":"-3.5","x":2e-5,"q":0.2964},{"eta":"-3.5","x":3e-5,"q":0.3949},{"eta":"-3.5","x":5e-5,"q":0.5381},{"eta":"-3.5","x":1e-4,"q":0.7389},{"eta":"-3.5","x":2e-4,"q":0.9085},{"eta":"-3.5","x":5e-4,"q":1.0535},{"eta":"-3.5","x":0.001,"q":1.1127},{"eta":"-3.5","x":0.003,"q":1.156},{"eta":"-3.5","x":0.01,"q":1.172},{"eta":"-3.5","x":0.1,"q":1.178},{"eta":"-3.5","x":0.94,"q":1.179}
]
},
"hconcat":[
{
"width":607,"height":413,
"resolve":{"axis":{"x":"independent","y":"independent"}},
"layer":[
{
"data":{"name":"cells"},
"mark":{"type":"rect","strokeWidth":0.6},
"encoding":{
"x":{"field":"xl","type":"quantitative","scale":{"type":"log","domain":[1e-5,1],"nice":false},
"axis":{"orient":"bottom","values":[1e-5,1e-4,0.001,0.01,0.1,1],"ticks":false,"domain":true,"domainColor":"#1c1c6c","domainWidth":2,
"labelExpr":"['10⁻⁵','10⁻⁴','10⁻³','10⁻²','10⁻¹','1'][round(log(datum.value)/LN10)+5]",
"labelFontSize":21,"labelPadding":11,"labelBaseline":"top","labelFlush":false,"labelOverlap":false,"labelBound":false,
"title":"x","titleFontSize":28,"titleX":297,"titleY":38,"titleAlign":"center","titleBaseline":"alphabetic"}},
"x2":{"field":"xh"},
"y":{"field":"ql","type":"quantitative","scale":{"type":"log","domain":[0.1,10000],"nice":false},
"axis":{"orient":"left","values":[0.1,1,10,100,1000,10000],"ticks":false,"domain":true,"domainColor":"black","domainWidth":2,
"labelExpr":"['10⁻¹','1','10','10²','10³','10⁴'][round(log(datum.value)/LN10)+1]",
"labelFontSize":21,"labelPadding":6,"labelAlign":"right","labelBaseline":"middle","labelFlush":false,"labelOverlap":false,"labelBound":false,
"title":"Q² [GeV²]","titleFontSize":33,"titleX":-40,"titleY":218,"titleAngle":270,"titleAlign":"center","titleBaseline":"alphabetic"}},
"y2":{"field":"qh"},
"color":{"field":"z","type":"quantitative","legend":null,"scale":{"type":"log","domain":[1,50.835,2585.3,131460,6683400,339820000,17278000000,878360000000,44668000000000],"range":["#352a87","#0f5cdd","#1481d6","#06a4ca","#2eb7a4","#87bf77","#d1bb59","#fec832","#f9fb0e"],"interpolate":"rgb","clamp":true}},
"stroke":{"field":"z","type":"quantitative","legend":null,"scale":{"type":"log","domain":[1,50.835,2585.3,131460,6683400,339820000,17278000000,878360000000,44668000000000],"range":["#352a87","#0f5cdd","#1481d6","#06a4ca","#2eb7a4","#87bf77","#d1bb59","#fec832","#f9fb0e"],"interpolate":"rgb","clamp":true}}
}
},
{
"data":{"name":"curves"},
"mark":{"type":"line","color":"black","strokeWidth":3,"interpolate":"monotone"},
"encoding":{
"x":{"field":"x","type":"quantitative","axis":{"orient":"top","ticks":false,"labels":false,"domain":true,"domainColor":"black","domainWidth":2,"title":null}},
"y":{"field":"q","type":"quantitative","axis":{"orient":"right","ticks":false,"labels":false,"domain":true,"domainColor":"black","domainWidth":2,"title":null}},
"detail":{"field":"eta"},
"order":{"field":"x","type":"quantitative"}
}
},
{
"data":{"values":[{"x":0.03199,"x2":0.5715,"y":1.536,"y2":136.6}]},
"mark":{"type":"rect","fill":"transparent","stroke":"#0db0ee","strokeWidth":3,"cornerRadius":19},
"encoding":{"x":{"field":"x","type":"quantitative","axis":null},"x2":{"field":"x2"},"y":{"field":"y","type":"quantitative","axis":null},"y2":{"field":"y2"}}
},
{
"data":{"values":[{"x":0.03229,"x2":0.5661,"y":161.5,"y2":1432.6}]},
"mark":{"type":"rect","fill":"transparent","stroke":"#ff0000","strokeWidth":8,"cornerRadius":13},
"encoding":{"x":{"field":"x","type":"quantitative","axis":null},"x2":{"field":"x2"},"y":{"field":"y","type":"quantitative","axis":null},"y2":{"field":"y2"}}
},
{
"data":{"values":[{"x":1.94e-5,"x2":6.79e-5,"y":2415}]},
"mark":{"type":"rule","color":"black","strokeWidth":1.8},
"encoding":{"x":{"field":"x","type":"quantitative","axis":null},"x2":{"field":"x2"},"y":{"field":"y","type":"quantitative","axis":null}}
},
{
"data":{"values":[{"label":"d²N","x":3.63e-5,"y":2624},{"label":"dxdQ²","x":3.63e-5,"y":1271}]},
"mark":{"type":"text","fontSize":23,"align":"center","baseline":"alphabetic"},
"encoding":{"x":{"field":"x","type":"quantitative","axis":null},"y":{"field":"y","type":"quantitative","axis":null},"text":{"field":"label"}}
},
{
"data":{"values":[{"label":"/ 10fb⁻¹ (N.C. Inclusive Simulation)","x":7.76e-5,"y":2099}]},
"mark":{"type":"text","fontSize":23,"align":"left","baseline":"alphabetic"},
"encoding":{"x":{"field":"x","type":"quantitative","axis":null},"y":{"field":"y","type":"quantitative","axis":null},"text":{"field":"label"}}
},
{
"data":{"values":[{"label":"Eₑ = 18 GeV","x":1.94e-5,"y":196},{"label":"Eₚ = 275 GeV","x":1.94e-5,"y":97.7}]},
"mark":{"type":"text","fontSize":22,"align":"left","baseline":"alphabetic"},
"encoding":{"x":{"field":"x","type":"quantitative","axis":null},"y":{"field":"y","type":"quantitative","axis":null},"text":{"field":"label"}}
},
{
"data":{"values":[{"label":"ηₑ = -1.0","x":0.05,"y":245},{"label":"ηₑ = -3.5","x":0.05,"y":2.03}]},
"mark":{"type":"text","fontSize":16,"fontWeight":"bold","align":"left","baseline":"alphabetic"},
"encoding":{"x":{"field":"x","type":"quantitative","axis":null},"y":{"field":"y","type":"quantitative","axis":null},"text":{"field":"label"}}
},
{
"data":{"values":[{"label":"B","x":0.00313,"y":0.02773}]},
"mark":{"type":"text","fontSize":20,"align":"left","baseline":"alphabetic"},
"encoding":{"x":{"field":"x","type":"quantitative","axis":null},"y":{"field":"y","type":"quantitative","axis":null},"text":{"field":"label"}}
},
{
"data":{"values":[{"x":0.0176,"y":37070,"x2":0.04772,"y2":736}]},
"mark":{"type":"rule","color":"#ff0000","strokeWidth":3.5},
"encoding":{"x":{"field":"x","type":"quantitative","axis":null},"y":{"field":"y","type":"quantitative","axis":null},"x2":{"field":"x2"},"y2":{"field":"y2"}}
},
{
"data":{"values":[{"x":0.04772,"y":736}]},
"mark":{"type":"point","shape":"M-0.7,-1L0.7,-1L0,1Z","size":400,"angle":-20,"filled":true,"color":"#ff0000","opacity":1,"strokeWidth":0},
"encoding":{"x":{"field":"x","type":"quantitative","axis":null},"y":{"field":"y","type":"quantitative","axis":null}}
},
{
"data":{"name":"bt"},
"mark":{"type":"rule","color":"black","strokeWidth":1.5},
"encoding":{"x":{"field":"v","type":"quantitative","axis":null},"y":{"field":"a","type":"quantitative","axis":null},"y2":{"field":"b"}}
},
{
"data":{"name":"tt"},
"mark":{"type":"rule","color":"black","strokeWidth":1.5},
"encoding":{"x":{"field":"v","type":"quantitative","axis":null},"y":{"field":"a","type":"quantitative","axis":null},"y2":{"field":"b"}}
},
{
"data":{"name":"lt"},
"mark":{"type":"rule","color":"black","strokeWidth":1.5},
"encoding":{"y":{"field":"v","type":"quantitative","axis":null},"x":{"field":"a","type":"quantitative","axis":null},"x2":{"field":"b"}}
},
{
"data":{"name":"rt"},
"mark":{"type":"rule","color":"black","strokeWidth":1.5},
"encoding":{"y":{"field":"v","type":"quantitative","axis":null},"x":{"field":"a","type":"quantitative","axis":null},"x2":{"field":"b"}}
},
{
"data":{"name":"bt"},
"mark":{"type":"rect","fill":"black","stroke":"black","strokeWidth":1.5},
"encoding":{"x":{"field":"v","type":"quantitative","axis":null},"x2":{"field":"v"},"y":{"field":"a","type":"quantitative","axis":null},"y2":{"field":"b"}}
},
{
"data":{"name":"tt"},
"mark":{"type":"rect","fill":"black","stroke":"black","strokeWidth":1.5},
"encoding":{"x":{"field":"v","type":"quantitative","axis":null},"x2":{"field":"v"},"y":{"field":"a","type":"quantitative","axis":null},"y2":{"field":"b"}}
},
{
"data":{"name":"lt"},
"mark":{"type":"rect","fill":"black","stroke":"black","strokeWidth":1.5},
"encoding":{"y":{"field":"v","type":"quantitative","axis":null},"y2":{"field":"v"},"x":{"field":"a","type":"quantitative","axis":null},"x2":{"field":"b"}}
},
{
"data":{"name":"rt"},
"mark":{"type":"rect","fill":"black","stroke":"black","strokeWidth":1.5},
"encoding":{"y":{"field":"v","type":"quantitative","axis":null},"y2":{"field":"v"},"x":{"field":"a","type":"quantitative","axis":null},"x2":{"field":"b"}}
}
]
},
{
"width":34,"height":413,
"layer":[
{
"data":{"name":"bar"},
"mark":{"type":"rect"},
"encoding":{
"x":{"datum":0,"type":"quantitative","scale":{"domain":[0,1],"nice":false,"zero":false},"axis":null},
"x2":{"datum":1},
"y":{"field":"lo","type":"quantitative","scale":{"type":"log","domain":[1,44668000000000],"nice":false},
"axis":{"orient":"right","values":[1,10,100,1000,1e4,1e5,1e6,1e7,1e8,1e9,1e10,1e11,1e12,1e13],"ticks":false,"domain":false,
"labelExpr":"['1','10','10²','10³','10⁴','10⁵','10⁶','10⁷','10⁸','10⁹','10¹⁰','10¹¹','10¹²','10¹³'][round(log(datum.value)/LN10)]",
"labelFontSize":17,"labelPadding":9,"labelAlign":"left","labelBaseline":"middle","labelFlush":false,"labelOverlap":false,"labelBound":false,"title":null}},
"y2":{"field":"hi"},
"color":{"field":"hi","type":"quantitative","legend":null,"scale":{"type":"log","domain":[1,50.835,2585.3,131460,6683400,339820000,17278000000,878360000000,44668000000000],"range":["#352a87","#0f5cdd","#1481d6","#06a4ca","#2eb7a4","#87bf77","#d1bb59","#fec832","#f9fb0e"],"interpolate":"rgb","clamp":true}}
}
},
{
"data":{"name":"ct"},
"mark":{"type":"rule","color":"black","strokeWidth":1.1},
"encoding":{"y":{"field":"v","type":"quantitative"},"x":{"field":"a","type":"quantitative"},"x2":{"field":"b"}}
},
{
"data":{"name":"ct"},
"mark":{"type":"rect","fill":"black","stroke":"black","strokeWidth":1.1},
"encoding":{"y":{"field":"v","type":"quantitative"},"y2":{"field":"v"},"x":{"field":"a","type":"quantitative"},"x2":{"field":"b"}}
}
]
}
]
}
